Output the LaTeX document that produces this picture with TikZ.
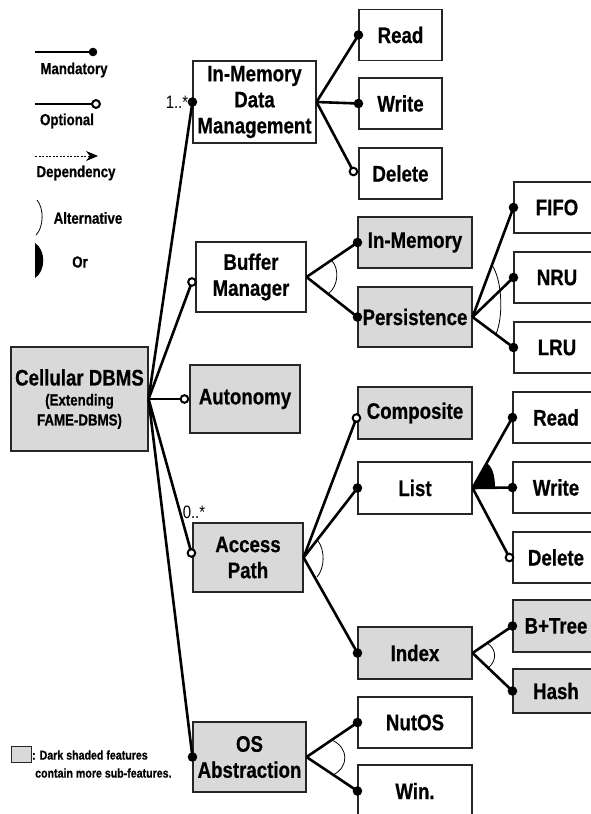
\documentclass[tikz,border=0pt]{standalone}
\usepackage{fontspec}
\setmainfont[FakeStretch=0.83, BoldFeatures={FakeBold=0.6}]{Liberation Sans}
\usetikzlibrary{arrows.meta}
\definecolor{shade}{HTML}{D9D9D9}
\newcommand\featfont{\bfseries\fontsize{22.5}{26}\selectfont}
\newcommand\subfeatfont{\bfseries\fontsize{16}{20}\selectfont}
\newcommand\legfont{\bfseries\fontsize{16}{19}\selectfont}
\newcommand\notefont{\bfseries\fontsize{12.8}{16}\selectfont}
\newcommand\cardfont{\fontsize{18}{20}\selectfont}
\begin{document}
\begin{tikzpicture}[x=1pt,y=-1pt,
  feat/.style 2 args={draw=black!85, line width=1.1pt, minimum width=#1pt, minimum height=#2pt,
    inner sep=0pt, align=center, font=\featfont},
  dark/.style={fill=shade},
  conn/.style={line width=2.6pt},
  opt/.style={line width=2pt, fill=white},
  altarc/.style={line width=0.8pt},
  legline/.style={line width=2.2pt},
  leg/.style={font=\legfont, inner sep=0pt}]
\useasboundingbox (0,0) rectangle (590,814);

% ---------- features ----------
\node[feat={123}{82}] (imdm) at (254.5,102) {In-Memory\\Data\\Management};
\node[feat={83}{51}] (read1) at (400.5,35) {Read};
\node[feat={83}{51}] (write1) at (400.5,103.5) {Write};
\node[feat={83}{51}] (del1) at (400.5,173.5) {Delete};

\node[feat={110}{70}] (buf) at (251,277) {Buffer\\Manager};
\node[feat={114}{51}, dark] (inmem) at (415,242.5) {In-Memory};
\node[feat={114}{60}, dark] (pers) at (415,317) {Persistence};
\node[feat={86}{51}] (fifo) at (557,207.5) {FIFO};
\node[feat={86}{51}] (nru) at (557,277.5) {NRU};
\node[feat={86}{51}] (lru) at (557,347.5) {LRU};

\node[feat={137}{104}, dark, font=\subfeatfont] (cell) at (79.5,399)
  {{\featfont Cellular DBMS}\\(Extending\\FAME-DBMS)};
\node[feat={110}{68}, dark] (auto) at (245,399) {Autonomy};

\node[feat={110}{69}, dark] (acc) at (248,557.5) {Access\\Path};
\node[feat={114}{52}, dark] (comp) at (415,413) {Composite};
\node[feat={114}{52}] (list) at (415,488) {List};
\node[feat={86}{51}] (read2) at (556,417.5) {Read};
\node[feat={86}{51}] (write2) at (556,487.5) {Write};
\node[feat={86}{51}] (del2) at (556,557.5) {Delete};
\node[feat={114}{52}, dark] (index) at (415,653) {Index};
\node[feat={86}{52}, dark] (btree) at (556,626) {B+Tree};
\node[feat={86}{44}, dark] (hash) at (556,691) {Hash};

\node[feat={113}{70}, dark] (os) at (249.5,757) {OS\\Abstraction};
\node[feat={114}{51}] (nutos) at (415,722.5) {NutOS};
\node[feat={114}{52}] (win) at (415,791) {Win.};

% ---------- optional end points ----------
\coordinate (o-buf) at ([xshift=-3.5pt,yshift=-5pt]buf.west);
\coordinate (o-auto) at ([xshift=-5pt]auto.west);
\coordinate (o-acc) at ([xshift=-1pt,yshift=4.5pt]acc.west);
\coordinate (o-del1) at ([xshift=-5pt,yshift=2pt]del1.west);
\coordinate (o-comp) at ([xshift=-1pt,yshift=-5pt]comp.west);
\coordinate (o-del2) at ([xshift=-3pt]del2.west);

% ---------- connectors ----------
\draw[conn] (cell.east) -- (imdm.west);
\draw[conn] (cell.east) -- (o-buf);
\draw[conn] (cell.east) -- (o-auto);
\draw[conn] (cell.east) -- (o-acc);
\draw[conn] (cell.east) -- (os.west);

\draw[conn] (imdm.east) -- (read1.west);
\draw[conn] (imdm.east) -- (write1.west);
\draw[conn] (imdm.east) -- (o-del1);

\draw[conn] (buf.east) -- (inmem.west);
\draw[conn] (buf.east) -- (pers.west);
\draw[conn] (pers.east) -- (fifo.west);
\draw[conn] (pers.east) -- (nru.west);
\draw[conn] (pers.east) -- (lru.west);

\draw[conn] (acc.east) -- (o-comp);
\draw[conn] (acc.east) -- (list.west);
\draw[conn] (acc.east) -- (index.west);
\draw[conn] (list.east) -- (read2.west);
\draw[conn] (list.east) -- (write2.west);
\draw[conn] (list.east) -- (o-del2);
\draw[conn] (index.east) -- (btree.west);
\draw[conn] (index.east) -- (hash.west);

\draw[conn] (os.east) -- (nutos.west);
\draw[conn] (os.east) -- (win.west);

% mandatory dots
\foreach \n in {imdm,os,read1,write1,inmem,pers,fifo,nru,lru,list,read2,write2,index,btree,hash,nutos,win}
  \fill (\n.west) circle[radius=4.8pt];
% optional circles
\foreach \n in {o-buf,o-auto,o-acc,o-del1,o-comp,o-del2}
  \draw[opt] (\n) circle[radius=3.8pt];

% alternative arcs
\draw[altarc] (332,261) .. controls (339,268) and (339,286) .. (328,294);
\draw[altarc] (492,265) .. controls (503,282) and (503,318) .. (496,334);
\draw[altarc] (318,541) .. controls (325,550) and (325,568) .. (317,577);
\draw[altarc] (487,643) .. controls (497,649) and (497,661) .. (488,668);
\draw[altarc] (332,740) .. controls (349,748) and (349,767) .. (333,775);
% or group
\fill (list.east) -- (486.6,463) .. controls (493,467) and (495,477) .. (495,488) -- cycle;

% cardinalities
\node[font=\cardfont, inner sep=0pt] (card1) at (177,102) {1..*};
\node[font=\cardfont, inner sep=0pt] (card2) at (194,512) {0..*};

% ---------- legend ----------
\coordinate (lm1) at (35,52);
\coordinate (lm2) at (93,52);
\draw[legline] (lm1) -- (lm2);
\fill (lm2) circle[radius=4.3pt];
\node[leg] (lmand) at (74,70) {Mandatory};

\coordinate (lo1) at (35,104);
\coordinate (lo2) at (96,104);
\draw[legline] (lo1) -- (lo2);
\draw[opt] (lo2) circle[radius=3.9pt];
\node[leg] (lopt) at (67,121) {Optional};

\coordinate (ld1) at (35,156);
\coordinate (ld2) at (98,156);
\draw[line width=0.8pt, dash pattern=on 2pt off 1.5pt, -{Stealth[length=12pt,width=10pt]}] (ld1) -- (ld2);
\node[leg] (ldep) at (76,173) {Dependency};

\draw[altarc] (37,200) .. controls (44,208) and (44,227) .. (36,235);
\node[leg] (lalt) at (88,218) {Alternative};

\fill (35,243) .. controls (46,250) and (46,271) .. (35,278) -- cycle;
\node[leg] (lor) at (80,262) {Or};

\draw[draw=black!85, line width=1pt, fill=shade] (11,746) rectangle (31,762);
\node[font=\notefont, inner sep=0pt, anchor=west] (note1) at (32,755) {: Dark shaded features};
\node[font=\notefont, inner sep=0pt, anchor=west] (note2) at (35,773) {contain more sub-features.};
\end{tikzpicture}
\end{document}
